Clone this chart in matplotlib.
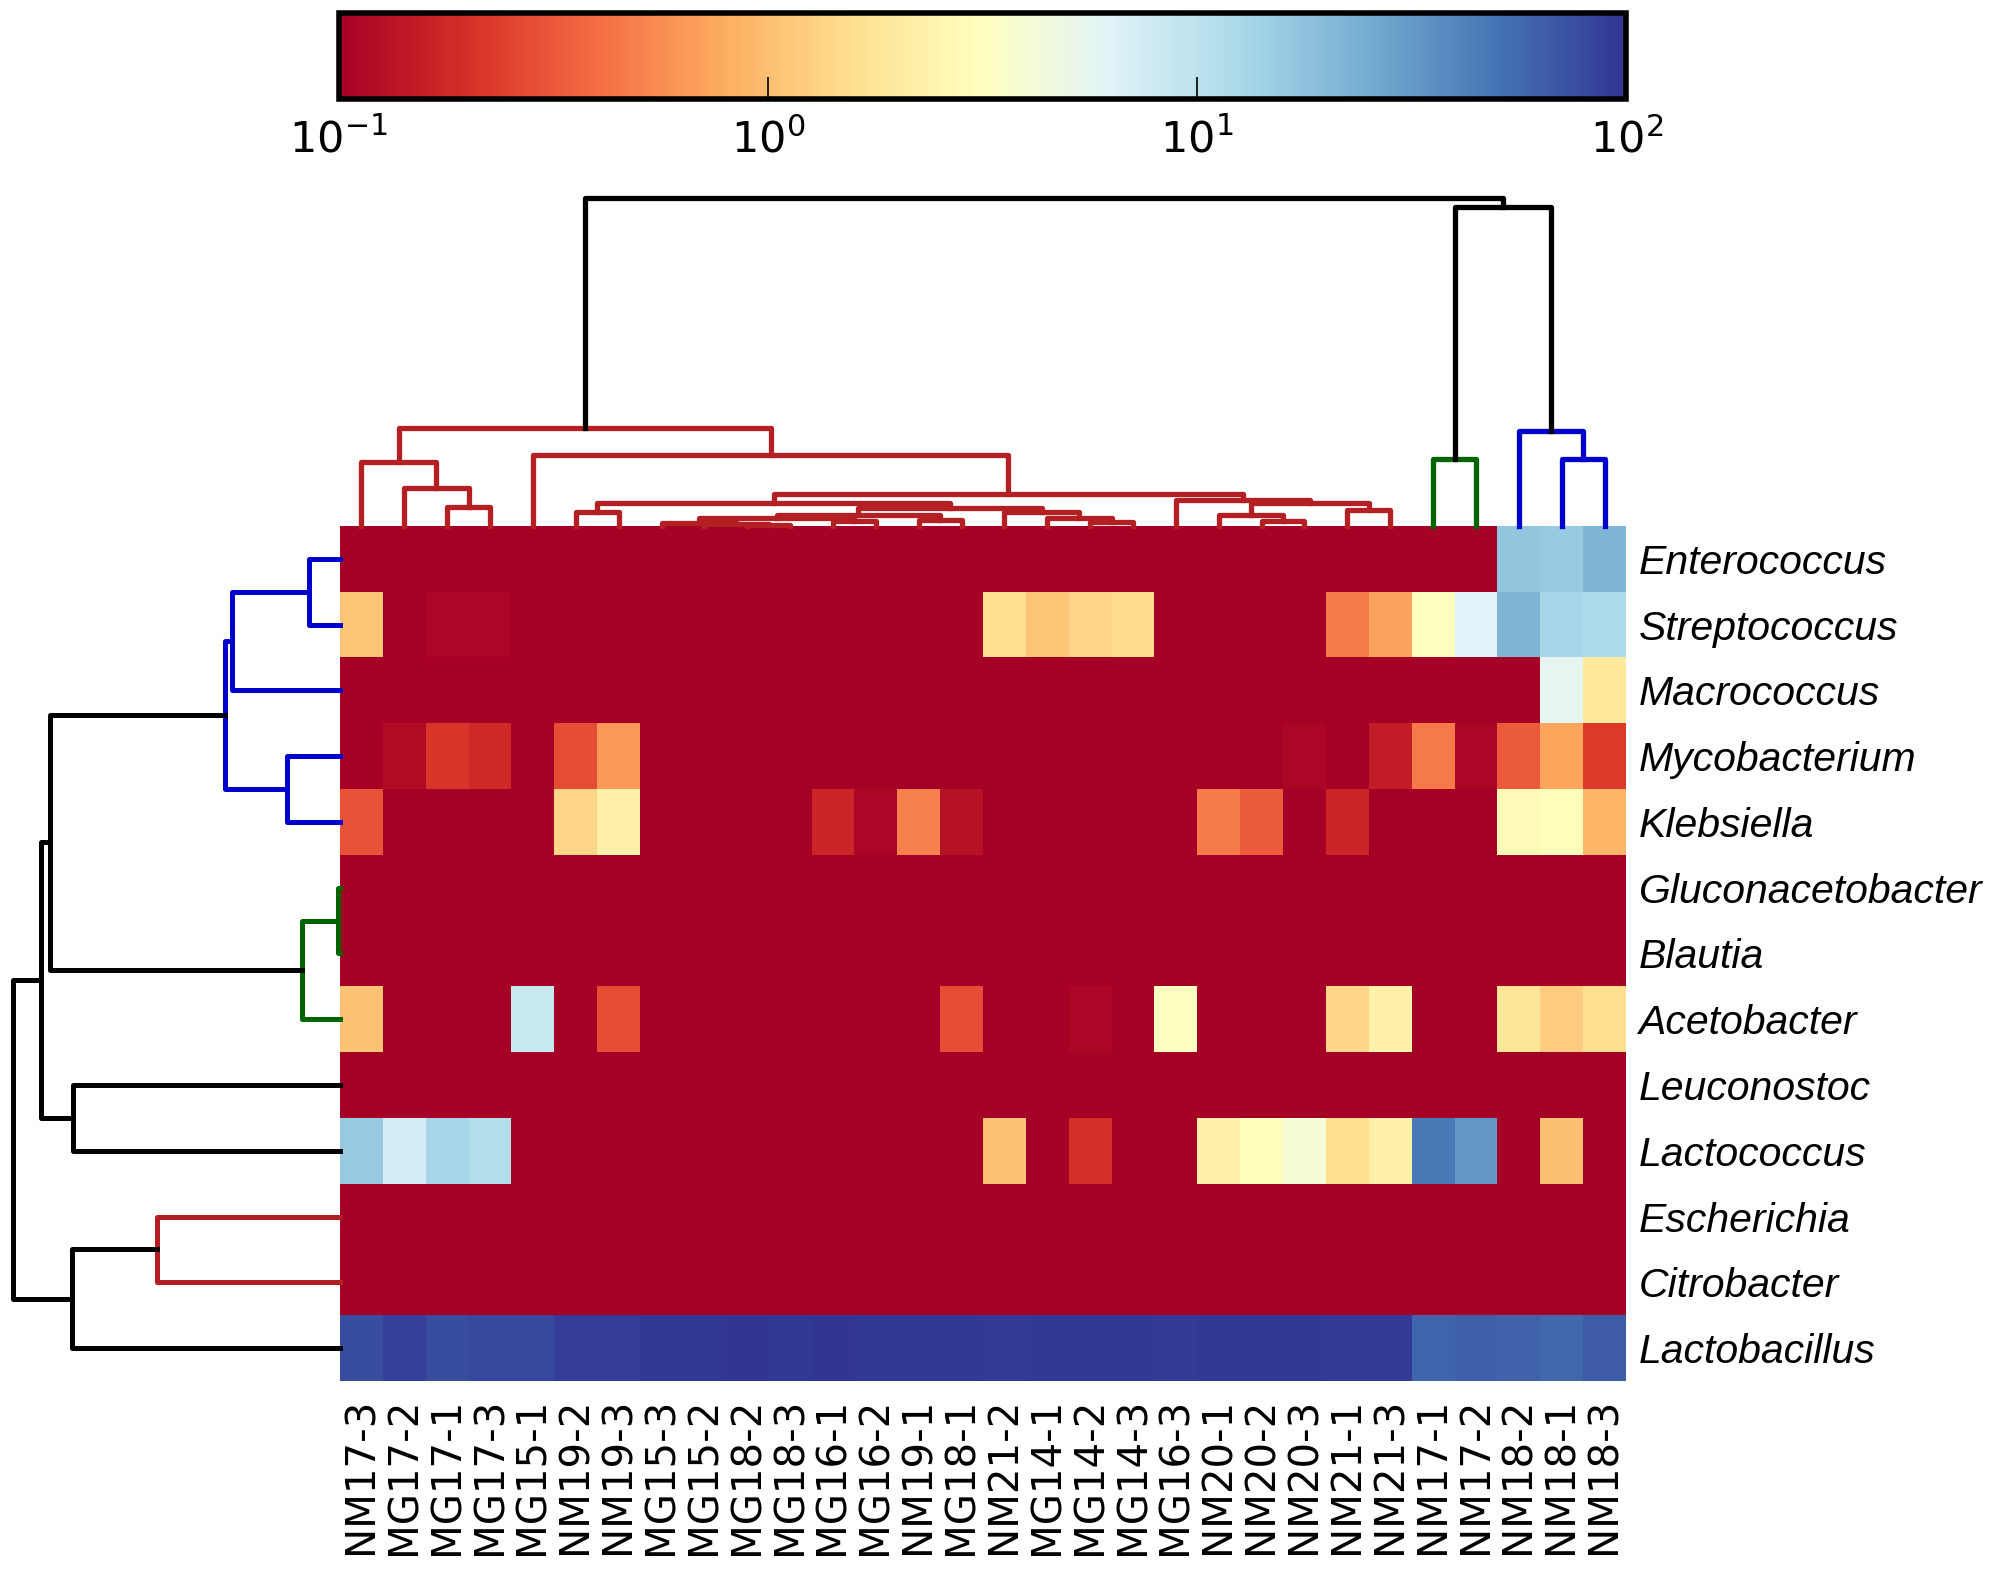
import matplotlib
matplotlib.use('Agg')
import matplotlib.pyplot as plt
import numpy as np
from matplotlib.colors import LogNorm

# sample order (columns) and genus order (rows) as in the clustered heatmap
samples = ['NM17-3', 'MG17-2', 'MG17-1', 'MG17-3', 'MG15-1', 'NM19-2', 'NM19-3', 'MG15-3', 'MG15-2',
           'MG18-2', 'MG18-3', 'MG16-1', 'MG16-2', 'NM19-1', 'MG18-1', 'NM21-2', 'MG14-1', 'MG14-2',
           'MG14-3', 'MG16-3', 'NM20-1', 'NM20-2', 'NM20-3', 'NM21-1', 'NM21-3', 'NM17-1', 'NM17-2',
           'NM18-2', 'NM18-1', 'NM18-3']
genera = ['Enterococcus', 'Streptococcus', 'Macrococcus', 'Mycobacterium', 'Klebsiella',
          'Gluconacetobacter', 'Blautia', 'Acetobacter', 'Leuconostoc', 'Lactococcus',
          'Escherichia', 'Citrobacter', 'Lactobacillus']

# relative abundance (%), 0 = not detected / below 0.1
enterococcus = [0] * 27 + [17, 16, 22]
streptococcus = [1.1, 0, 0.11, 0.11, 0, 0, 0, 0, 0, 0, 0, 0, 0, 0, 0,
                 1.6, 1.1, 1.4, 1.5, 0, 0, 0, 0, 0.46, 0.7, 3.2, 6.3, 22, 13, 12]
macrococcus = [0] * 28 + [5.5, 1.9]
mycobacterium = [0, 0.12, 0.21, 0.18, 0, 0.28, 0.64, 0, 0, 0, 0, 0, 0, 0, 0,
                 0, 0, 0, 0, 0, 0, 0, 0.11, 0, 0.15, 0.46, 0.11, 0.32, 0.73, 0.23]
klebsiella = [0.3, 0, 0, 0, 0, 1.4, 2.3, 0, 0, 0, 0, 0.17, 0.11, 0.5, 0.13,
              0, 0, 0, 0, 0, 0.46, 0.33, 0, 0.17, 0, 0, 0, 2.8, 3.0, 0.87]
gluconacetobacter = [0] * 30
blautia = [0] * 30
acetobacter = [1.06, 0, 0, 0, 8.6, 0, 0.28, 0, 0, 0, 0, 0, 0, 0, 0.28,
               0, 0, 0.11, 0, 3.2, 0, 0, 0, 1.4, 2.3, 0, 0, 1.8, 1.2, 1.6]
leuconostoc = [0] * 30
lactococcus = [16, 7.4, 13, 11.5, 0, 0, 0, 0, 0, 0, 0, 0, 0, 0, 0,
               1.05, 0, 0.2, 0, 0, 2.3, 3.0, 4.0, 1.6, 2.3, 47, 33, 0, 1.0, 0]
escherichia = [0] * 30
citrobacter = [0] * 30
lactobacillus = [77, 88, 78, 82, 82, 90, 92, 96, 97, 98, 97, 98, 97, 96, 95,
                 94, 95, 96, 95, 94, 96, 97, 95, 93, 94, 59, 63, 60, 57, 66]

abundance = np.array([enterococcus, streptococcus, macrococcus, mycobacterium, klebsiella,
                      gluconacetobacter, blautia, acetobacter, leuconostoc, lactococcus,
                      escherichia, citrobacter, lactobacillus], dtype=float)

RED, GREEN, BLUE, BLACK = '#b41f24', '#006400', '#0000cc', 'black'

# linkage: (left node, right node, height, colour); new node ids start at number of leaves
col_links = [
    (2, 3, 57, RED), (1, 30, 114, RED), (0, 31, 192, RED), (5, 6, 42, RED),
    (9, 10, 3, RED), (8, 34, 6, RED), (7, 35, 10, RED), (11, 12, 16, RED),
    (36, 37, 24, RED), (13, 14, 18, RED), (38, 39, 33, RED), (17, 18, 12, RED),
    (16, 41, 24, RED), (15, 42, 42, RED), (40, 43, 54, RED), (33, 44, 69, RED),
    (21, 22, 15, RED), (20, 46, 33, RED), (23, 24, 48, RED), (47, 48, 69, RED),
    (19, 49, 78, RED), (45, 50, 96, RED), (4, 51, 212, RED), (32, 52, 294, RED),
    (25, 26, 201, GREEN), (28, 29, 201, BLUE), (27, 55, 285, BLUE),
    (54, 56, 957, BLACK), (53, 57, 984, BLACK),
]
row_links = [
    (0, 1, 92, BLUE), (13, 2, 323, BLUE), (3, 4, 158, BLUE), (14, 15, 345, BLUE),
    (5, 6, 5, GREEN), (17, 7, 115, GREEN), (16, 18, 870, BLACK), (8, 9, 800, BLACK),
    (19, 20, 895, BLACK), (10, 11, 547, RED), (22, 12, 803, BLACK), (21, 23, 980, BLACK),
]


def draw_dendrogram(ax, links, n, side):
    pos = {i: i + 0.5 for i in range(n)}
    hgt = {i: 0.0 for i in range(n)}
    for k, (a, b, h, c) in enumerate(links):
        xs = [pos[a], pos[a], pos[b], pos[b]]
        ys = [hgt[a], h, h, hgt[b]]
        if side == 'top':
            ax.plot(xs, ys, color=c, lw=3.8, solid_capstyle='projecting', clip_on=False)
        else:
            ax.plot(ys, xs, color=c, lw=3.6, solid_capstyle='projecting', clip_on=False)
        pos[n + k] = (pos[a] + pos[b]) / 2
        hgt[n + k] = h
    ax.set_axis_off()


fig = plt.figure(figsize=(19.99, 15.77), dpi=100)

hm_left, hm_right, hm_bottom, hm_top = 0.1701, 0.8134, 0.1243, 0.6665
ax = fig.add_axes([hm_left, hm_bottom, hm_right - hm_left, hm_top - hm_bottom])
mesh = ax.pcolormesh(np.clip(abundance, 0.1, None), cmap='RdYlBu', norm=LogNorm(vmin=0.1, vmax=100))
ax.set_xlim(0, len(samples))
ax.set_ylim(len(genera), 0)
ax.set_xticks(np.arange(len(samples)) + 0.5)
ax.set_xticklabels(samples, rotation=90, fontsize=29, family='DejaVu Sans')
ax.set_yticks(np.arange(len(genera)) + 0.5)
ax.set_yticklabels(genera, fontsize=29.5, family='Liberation Sans', style='italic')
ax.yaxis.tick_right()
ax.tick_params(axis='both', length=0)
ax.tick_params(axis='x', pad=12)
ax.tick_params(axis='y', pad=9)
for s in ax.spines.values():
    s.set_visible(False)

# column dendrogram on top
axt = fig.add_axes([hm_left, hm_top, hm_right - hm_left, 0.2079])
draw_dendrogram(axt, col_links, len(samples), 'top')
axt.set_xlim(0, len(samples))
axt.set_ylim(0, 984)

# row dendrogram on the left
axl = fig.add_axes([0.0065, hm_bottom, hm_left - 0.0065, hm_top - hm_bottom])
draw_dendrogram(axl, row_links, len(genera), 'left')
axl.set_ylim(len(genera), 0)
axl.set_xlim(980, 0)

# colour bar
cax = fig.add_axes([0.1695, 0.937, 0.644, 0.055])
cb = fig.colorbar(mesh, cax=cax, orientation='horizontal')
cb.set_ticks([0.1, 1, 10, 100])
cb.ax.minorticks_off()
cb.outline.set_linewidth(4)
cax.tick_params(direction='in', length=16, width=1.2, labelsize=31, pad=14)

fig.savefig('out.png', dpi=100)
